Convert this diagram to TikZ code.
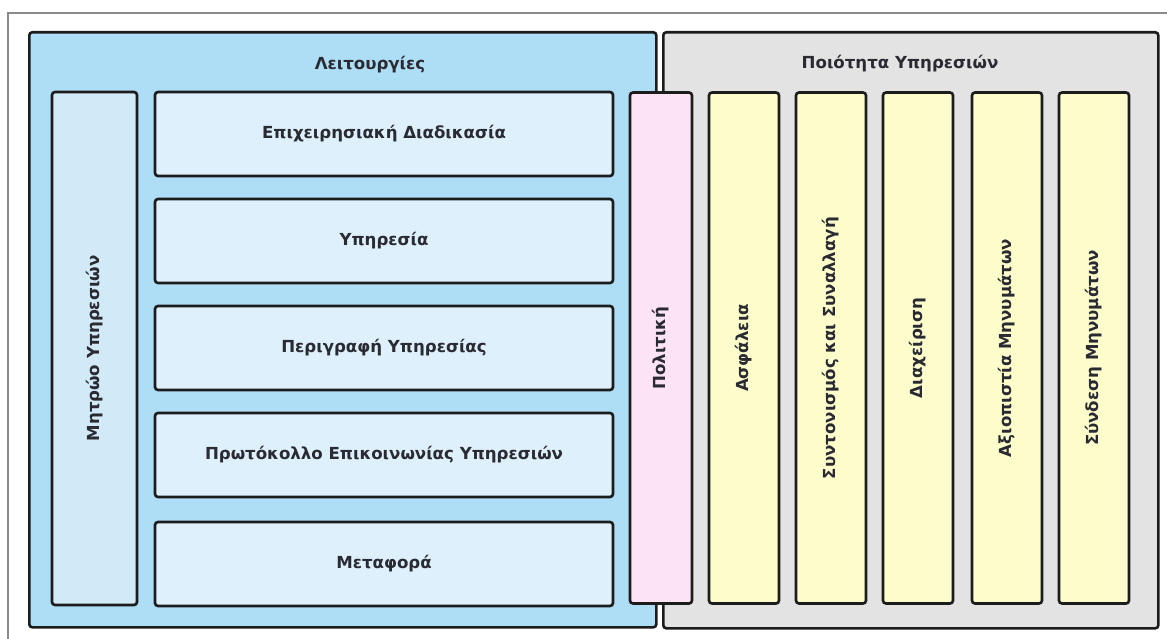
\documentclass[tikz,border=0pt]{standalone}
\usepackage{fontspec}
\setmainfont{DejaVu Sans}
\definecolor{bluefill}{HTML}{AEDDF6}
\definecolor{hfill}{HTML}{DDF0FC}
\definecolor{mfill}{HTML}{D2EAF8}
\definecolor{grayfill}{HTML}{E3E3E3}
\definecolor{pinkfill}{HTML}{FCE4F6}
\definecolor{yelfill}{HTML}{FDFDCC}
\definecolor{edge}{HTML}{1C1C1C}
\definecolor{txt}{HTML}{2A2A33}
\definecolor{framegray}{HTML}{8A8A8A}
\begin{document}
\begin{tikzpicture}[x=1pt,y=-1pt,
  panel/.style={draw=edge, line width=2.6pt, rounded corners=3pt, anchor=north west, inner sep=0pt},
  box/.style={draw=edge, line width=2.6pt, rounded corners=3pt, inner sep=0pt,
              font=\bfseries\fontsize{16.6}{20}\selectfont, text=txt},
  hbox/.style={box, fill=hfill, minimum width=458pt, minimum height=84pt},
  vbox/.style={box, rotate=90, minimum width=511pt, minimum height=70pt},
  title/.style={font=\bfseries\fontsize{16.6}{20}\selectfont, text=txt, inner sep=0pt}
]
\useasboundingbox (0,0) rectangle (1167,639);
\fill[white] (0,0) rectangle (1167,639);
% outer frame (only top and left visible)
\coordinate (fbl) at (8,639);
\coordinate (ftl) at (8,13);
\coordinate (ftr) at (1167,13);
\draw[framegray, line width=2pt] (fbl) -- (ftl) -- (ftr);
% panels
\node[panel, fill=bluefill, minimum width=627pt, minimum height=595pt] (func) at (28,31) {};
\node[panel, fill=grayfill, minimum width=495pt, minimum height=596pt] (qos) at (662,31) {};
\node[title] (functitle) at (370,65) {Λειτουργίες};
\node[title] (qostitle) at (900,64) {Ποιότητα Υπηρεσιών};
% registry
\node[box, fill=mfill, rotate=90, minimum width=513pt, minimum height=85pt] (reg) at (94.5,348.5) {Μητρώο Υπηρεσιών};
% layers
\node[hbox] (l1) at (384,134) {Επιχειρησιακή Διαδικασία};
\node[hbox] (l2) at (384,241) {Υπηρεσία};
\node[hbox] (l3) at (384,348) {Περιγραφή Υπηρεσίας};
\node[hbox] (l4) at (384,455) {Πρωτόκολλο Επικοινωνίας Υπηρεσιών};
\node[hbox] (l5) at (384,564) {Μεταφορά};
% policy
\node[vbox, fill=pinkfill, minimum height=62pt] (pol) at (661,348) {Πολιτική};
% qos columns
\node[vbox, fill=yelfill] (q1) at (744,348) {Ασφάλεια};
\node[vbox, fill=yelfill] (q2) at (831,348) {Συντονισμός και Συναλλαγή};
\node[vbox, fill=yelfill] (q3) at (918,348) {Διαχείριση};
\node[vbox, fill=yelfill] (q4) at (1007,348) {Αξιοπιστία Μηνυμάτων};
\node[vbox, fill=yelfill] (q5) at (1094,348) {Σύνδεση Μηνυμάτων};
\end{tikzpicture}
\end{document}
